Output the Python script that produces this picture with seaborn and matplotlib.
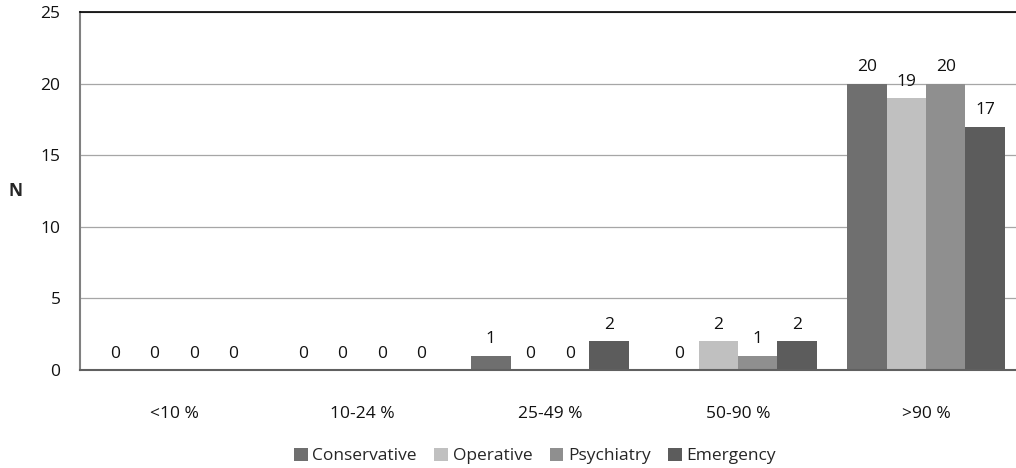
import matplotlib
matplotlib.use("Agg")
import matplotlib.pyplot as plt
import seaborn as sns
import pandas as pd

categories = ["<10 %", "10-24 %", "25-49 %", "50-90 %", ">90 %"]
conservative = [0, 0, 1, 0, 20]
operative = [0, 0, 0, 2, 19]
psychiatry = [0, 0, 0, 1, 20]
emergency = [0, 0, 2, 2, 17]
series_names = ["Conservative", "Operative", "Psychiatry", "Emergency"]
colors = ["#6f6f6f", "#c0c0c0", "#8f8f8f", "#5c5c5c"]

rows = []
for name, vals in zip(series_names, [conservative, operative, psychiatry, emergency]):
    for c, v in zip(categories, vals):
        rows.append({"cat": c, "series": name, "N": v})
df = pd.DataFrame(rows)

sns.set_theme(style="white")
plt.rcParams["font.family"] = ["Open Sans", "DejaVu Sans"]

FS = 12.5

fig = plt.figure(figsize=(10.16, 4.68), dpi=100)
ax = fig.add_axes([80 / 1016, 1 - 370 / 468, 940 / 1016, 358 / 468])

sns.barplot(data=df, x="cat", y="N", hue="series", order=categories,
            hue_order=series_names, palette=colors, width=0.84, ax=ax,
            saturation=1, legend=True, linewidth=0)

for cont in ax.containers:
    ax.bar_label(cont, padding=6, fontsize=FS, color="#111111")

ax.set_ylim(0, 25)
ax.set_xlim(-0.5, 4.5)
ax.set_yticks([0, 5, 10, 15, 20, 25])
ax.yaxis.grid(True, color="#a6a6a6", linewidth=0.9)
ax.set_axisbelow(True)
ax.tick_params(axis="y", length=0, pad=14, labelsize=FS, colors="#111111")
ax.tick_params(axis="x", length=0, pad=26, labelsize=FS, colors="#111111")
ax.set_xlabel("")
ax.set_ylabel("N", rotation=0, fontsize=12.5, fontweight="bold", va="center", ha="center")
ax.yaxis.set_label_coords(-65 / 940, 0.5)
ax.spines["left"].set_color("#808080")
ax.spines["left"].set_linewidth(1.5)
ax.spines["bottom"].set_color("#606060")
ax.spines["bottom"].set_linewidth(1.5)
ax.spines["top"].set_color("#000000")
ax.spines["top"].set_linewidth(1.2)
ax.spines["right"].set_visible(False)

handles, labels = ax.get_legend_handles_labels()
ax.legend(handles, labels, loc="center", bbox_to_anchor=(535 / 1016, 1 - 456 / 468),
          bbox_transform=fig.transFigure, ncol=4, frameon=False, fontsize=FS,
          handlelength=0.8, handleheight=0.8, handletextpad=0.25, columnspacing=1.0)

fig.savefig("out.png", dpi=100)
